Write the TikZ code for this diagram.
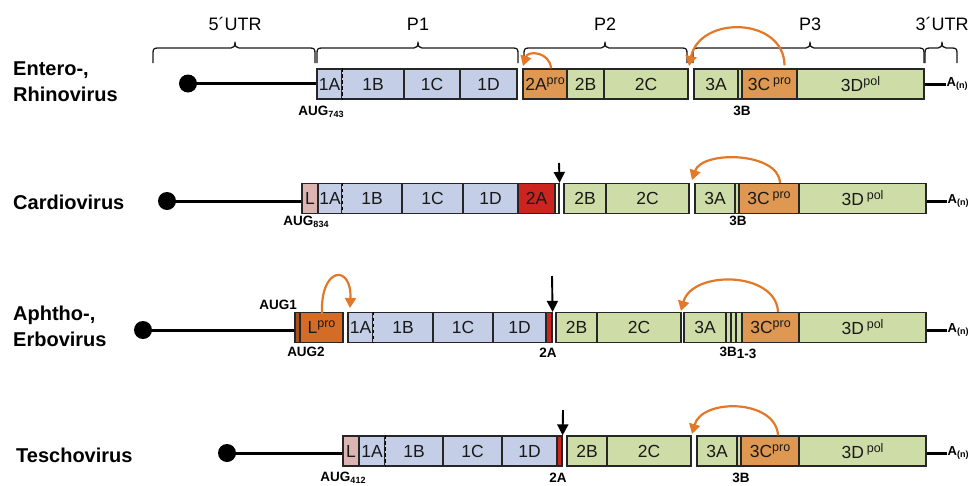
\documentclass[tikz,border=0pt]{standalone}
\usepackage{fontspec}
\setmainfont{Liberation Sans}
\usetikzlibrary{arrows.meta}
\definecolor{pblue}{RGB}{196,206,230}
\definecolor{pgreen}{RGB}{206,221,168}
\definecolor{porange}{RGB}{222,152,82}
\definecolor{pdark}{RGB}{212,108,38}
\definecolor{pdarker}{RGB}{170,80,25}
\definecolor{ppink}{RGB}{220,180,178}
\definecolor{pred}{RGB}{204,36,30}
\definecolor{pcream}{RGB}{248,244,232}
\definecolor{parc}{RGB}{226,120,40}
\newcommand\segfont{\fontsize{17.5}{19}\selectfont}
\newcommand\supx[1]{\raisebox{6pt}{\fontsize{12.5}{13}\selectfont #1}}
\newcommand\subx[1]{\raisebox{-2.5pt}{\fontsize{9}{9}\selectfont\bfseries #1}}
\newcommand\vseg[6]{\node[segbox, fill=#5, minimum width={(#3-#2)*1pt}] (#1) at ({(#2+#3)/2},#4) {#6};}
\newcommand\topbrace[3]{\draw[bracestyle] (#1,63) -- (#1,53) .. controls (#1,49) and ({#1+1},48) .. ({#1+5},48) -- ({#3-4},48) .. controls ({#3-1},48) and (#3,46) .. (#3,42) .. controls (#3,46) and ({#3+1},48) .. ({#3+4},48) -- ({#2-5},48) .. controls ({#2-1},48) and (#2,49) .. (#2,53) -- (#2,63);}
\newcommand\dashdiv[1]{\draw[line width=1.7pt, pblue, shorten <=0.7pt, shorten >=0.7pt] (#1.north east) -- (#1.south east);
  \draw[line width=1.3pt, dash pattern=on 3.5pt off 2.5pt] (#1.north east) -- (#1.south east);}
\tikzset{
  segbox/.style={rectangle, draw=black!85, line width=1.2pt, inner sep=0pt, minimum height=30pt, font=\segfont, text=black!90},
  bracestyle/.style={line width=1.3pt, black!90, line join=round},
  toplab/.style={font=\fontsize{18}{20}\selectfont, inner sep=1pt},
  rowlab/.style={font=\fontsize{20}{26}\bfseries\selectfont, align=left, anchor=west, inner sep=0pt},
  smalllab/.style={font=\fontsize{13.5}{14}\bfseries\selectfont, inner sep=1pt},
  capdot/.style={circle, fill=black, minimum size=18pt, inner sep=0pt},
  rna/.style={line width=3pt, black},
  tail/.style={font=\fontsize{13}{13}\bfseries\selectfont, anchor=west, inner sep=0.5pt},
  cleave/.style={line width=2.2pt, parc, -{Triangle[width=11pt,length=10pt]}},
  cut/.style={line width=1.9pt, black, -{Triangle[width=11pt,length=11pt]}}
}
\begin{document}
\begin{tikzpicture}[x=1pt,y=-1pt]
\fill[white] (0,0) rectangle (971,485);
\useasboundingbox (0,0) rectangle (971,485);

% ---------- top braces ----------
\topbrace{153}{315}{235}
\topbrace{317}{518}{418}
\topbrace{524}{687}{605}
\topbrace{693}{924}{810}
\topbrace{925}{957}{942}
\node[toplab] (t5) at (235,24) {5´UTR};
\node[toplab] (tP1) at (418,24) {P1};
\node[toplab] (tP2) at (605,24) {P2};
\node[toplab] (tP3) at (810,24) {P3};
\node[toplab] (t3) at (942,24) {3´UTR};

% ---------- row labels ----------
\node[rowlab] (lE) at (13,82) {Entero-,\\Rhinovirus};
\node[rowlab] (lC) at (13,202) {Cardiovirus};
\node[rowlab] (lA) at (13,326) {Aphtho-,\\Erbovirus};
\node[rowlab] (lT) at (16,455) {Teschovirus};

% ---------- Row 1: Entero/Rhino ----------
\def\yc{84}
\node[capdot] (E0) at (188,83.5) {};
\vseg{E1A}{317}{342}{\yc}{pblue}{1A}
\vseg{E1B}{342}{404}{\yc}{pblue}{1B}
\vseg{E1C}{404}{460}{\yc}{pblue}{1C}
\vseg{E1D}{460}{517}{\yc}{pblue}{1D}
\dashdiv{E1A}
\vseg{E2A}{523}{567}{\yc}{porange}{2A\supx{pro}}
\vseg{E2B}{567}{604}{\yc}{pgreen}{2B}
\vseg{E2C}{604}{688}{\yc}{pgreen}{2C}
\vseg{E3A}{694}{738}{\yc}{pgreen}{3A}
\vseg{E3B}{738}{742}{\yc}{pgreen}{}
\vseg{E3C}{742}{797}{\yc}{porange}{3C\,\supx{pro}}
\vseg{E3D}{797}{924}{\yc}{pgreen}{3D\supx{pol}}
\draw[rna] (E0.center) -- (E0 -| E1A.west);
\node[tail] (EAn) at (946,\yc) {A\subx{(n)}};
\draw[rna] (E3D.east) -- (EAn.west);
\node[smalllab] (EAUG) at (321,112) {AUG\subx{743}};
\node[smalllab] (E3Bl) at (742,111) {3B};
\coordinate (Eg2) at (523,66);
\coordinate (Eg3) at (689,66);
\draw[cleave] ([xshift=6pt]E2A.north) .. controls (550,52) and (528,50) .. (Eg2);
\draw[cleave] ([xshift=15pt,yshift=3pt]E3C.north) .. controls (784,17) and (700,15) .. (Eg3);

% ---------- Row 2: Cardio ----------
\def\yc{198.5}
\node[capdot] (C0) at (167,201) {};
\vseg{CL}{302}{318}{\yc}{ppink}{L}
\vseg{C1A}{318}{342}{\yc}{pblue}{1A}
\vseg{C1B}{342}{402}{\yc}{pblue}{1B}
\vseg{C1C}{402}{463}{\yc}{pblue}{1C}
\vseg{C1D}{463}{518}{\yc}{pblue}{1D}
\dashdiv{C1A}
\vseg{C2A}{518}{555}{\yc}{pred}{2A}
\vseg{C2x}{555}{559}{\yc}{pcream}{}
\vseg{C2B}{564}{606}{\yc}{pgreen}{2B}
\vseg{C2C}{606}{689}{\yc}{pgreen}{2C}
\vseg{C3A}{695}{735}{\yc}{pgreen}{3A}
\vseg{C3B}{735}{739}{\yc}{pgreen}{}
\vseg{C3C}{739}{799}{\yc}{porange}{3C\,\supx{pro}}
\vseg{C3D}{799}{926}{\yc}{pgreen}{3D\,\supx{pol}}
\draw[rna] (C0.center) -- (C0 -| CL.west);
\node[tail] (CAn) at (947,201) {A\subx{(n)}};
\draw[rna] (CAn.west) -- (CAn.west -| C3D.east);
\node[smalllab] (CAUG) at (306,222) {AUG\subx{834}};
\node[smalllab] (C3Bl) at (738,221) {3B};
\coordinate (Ccut) at (559,163);
\draw[cut] (Ccut) -- (C2x.north east);
\coordinate (Cg3) at (692,180);
\draw[cleave] ([xshift=11pt]C3C.north) .. controls (779,152) and (702,150) .. (Cg3);

% ---------- Row 3: Aphtho/Erbo ----------
\def\yc{327.5}
\node[capdot] (A0) at (143,330) {};
\vseg{AL0}{295}{300}{\yc}{pdarker}{}
\vseg{AL}{300}{343}{\yc}{pdark}{L\supx{pro}}
\vseg{A1A}{348}{373}{\yc}{pblue}{1A}
\vseg{A1B}{373}{433}{\yc}{pblue}{1B}
\vseg{A1C}{433}{493}{\yc}{pblue}{1C}
\vseg{A1D}{493}{546}{\yc}{pblue}{1D}
\dashdiv{A1A}
\vseg{A2A}{546}{552}{\yc}{pred}{}
\vseg{A2B}{556}{597}{\yc}{pgreen}{2B}
\vseg{A2C}{597}{681}{\yc}{pgreen}{2C}
\vseg{A3A}{684}{726}{\yc}{pgreen}{3A}
\vseg{A3B1}{726}{731}{\yc}{pgreen}{}
\vseg{A3B2}{731}{736}{\yc}{pgreen}{}
\vseg{A3B3}{736}{742}{\yc}{pgreen}{}
\vseg{A3C}{742}{799}{\yc}{porange}{3C\supx{pro}}
\vseg{A3D}{799}{926}{\yc}{pgreen}{3D\,\supx{pol}}
\draw[rna] (A0.center) -- (A0 -| AL0.west);
\node[tail] (AAn) at (947,330) {A\subx{(n)}};
\draw[rna] (AAn.west) -- (AAn.west -| A3D.east);
\node[smalllab, anchor=east] (AAUG1) at (298,305) {AUG1};
\node[smalllab] (AAUG2) at (306,352) {AUG2};
\node[smalllab] (A2Al) at (548,353) {2A};
\node[smalllab] (A3Bl) at (738,353) {3B\raisebox{-2pt}{1-3}};
\coordinate (Acut) at (552,276);
\draw[cut] (Acut) -- (A2A.north east);
\coordinate (Ag1) at (350,308);
\draw[cleave] ([xshift=0.5pt,yshift=-2pt]AL.north) .. controls (320,266) and (352,264) .. (Ag1);
\coordinate (Ag3) at (681,311);
\draw[cleave] ([xshift=7.5pt]A3C.north) .. controls (776,271) and (692,270) .. (Ag3);

% ---------- Row 4: Tescho ----------
\def\yc{451}
\node[capdot] (T0) at (227,453) {};
\vseg{TL}{343}{359}{\yc}{ppink}{L}
\vseg{T1A}{359}{385}{\yc}{pblue}{1A}
\vseg{T1B}{385}{443}{\yc}{pblue}{1B}
\vseg{T1C}{443}{502}{\yc}{pblue}{1C}
\vseg{T1D}{502}{557}{\yc}{pblue}{1D}
\dashdiv{T1A}
\vseg{T2A}{557}{562}{\yc}{pred}{}
\vseg{T2B}{567}{607}{\yc}{pgreen}{2B}
\vseg{T2C}{607}{691}{\yc}{pgreen}{2C}
\vseg{T3A}{697}{737}{\yc}{pgreen}{3A}
\vseg{T3B}{737}{741}{\yc}{pgreen}{}
\vseg{T3C}{741}{799}{\yc}{porange}{3C\supx{pro}}
\vseg{T3D}{799}{926}{\yc}{pgreen}{3D\,\supx{pol}}
\draw[rna] (T0.center) -- (T0 -| TL.west);
\node[tail] (TAn) at (947,453) {A\subx{(n)}};
\draw[rna] (TAn.west) -- (TAn.west -| T3D.east);
\node[smalllab] (TAUG) at (343,478) {AUG\subx{412}};
\node[smalllab] (T2Al) at (558,478) {2A};
\node[smalllab] (T3Bl) at (741,478) {3B};
\coordinate (Tcut) at (563,410);
\draw[cut] (Tcut) -- (T2A.north east);
\coordinate (Tg3) at (692,434);
\draw[cleave] ([xshift=8pt]T3C.north) .. controls (776,399) and (702,398) .. (Tg3);
\end{tikzpicture}
\end{document}
